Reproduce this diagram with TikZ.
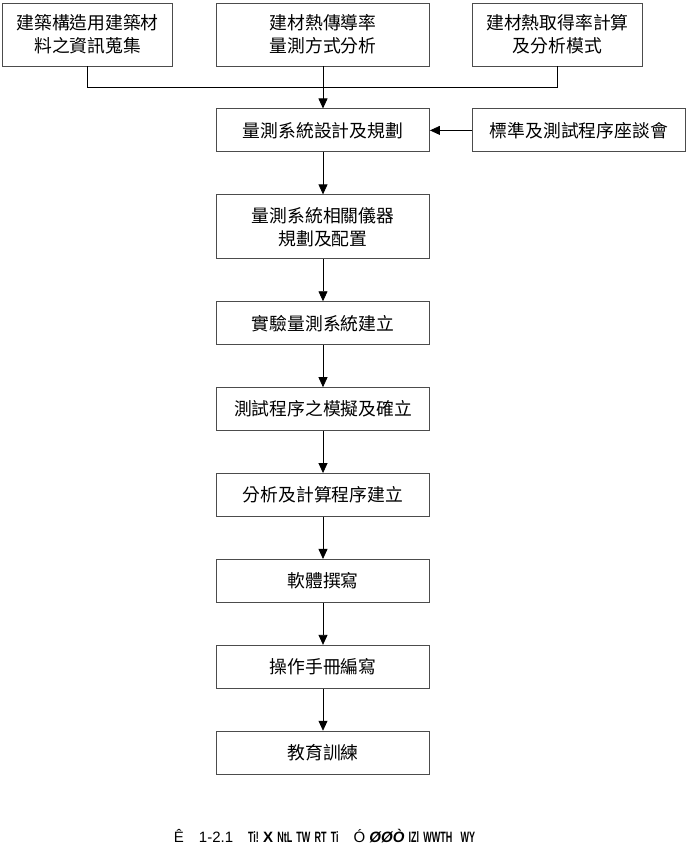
\documentclass[tikz,border=0pt]{standalone}
\usepackage{fontspec}
\usepackage{graphicx}
\setmainfont{Liberation Sans}
\newfontfamily\cjk{Noto Sans CJK TC}
\usetikzlibrary{arrows.meta,positioning,calc}

\newcommand{\squeeze}[1]{\scalebox{0.6}[1]{\bfseries #1}}

\begin{document}
\begin{tikzpicture}[
    x=1pt, y=1pt,
    node distance=42pt,
    box/.style={rectangle, draw=black!70, line width=0.9pt, fill=white, align=center,
                minimum width=213pt, minimum height=43pt, inner sep=0pt,
                font=\cjk\fontsize{17.8}{23}\selectfont},
    sbox/.style={box, minimum width=170pt, minimum height=63pt},
    tbox/.style={box, minimum height=64pt},
    flow/.style={-{Triangle[length=10pt,width=9pt]}, line width=0.8pt}
]
\useasboundingbox (0,0) rectangle (698,-844);
\node[box, minimum height=63pt] (mid) at (323,-34.5) {建材熱傳導率\\量測方式分析};
\node[sbox, left=43pt of mid] (lft) {建築構造用建築材\\料之資訊蒐集};
\node[sbox, right=of mid] (rgt) {建材熱取得率計算\\及分析模式};
\node[box, below=of mid] (s1) {量測系統設計及規劃};
\node[box, right=of s1] (meet) {標準及測試程序座談會};
\node[tbox, below=of s1] (s2) {量測系統相關儀器\\規劃及配置};
\node[box, below=of s2] (s3) {實驗量測系統建立};
\node[box, below=of s3] (s4) {測試程序之模擬及確立};
\node[box, below=of s4] (s5) {分析及計算程序建立};
\node[box, below=of s5] (s6) {軟體撰寫};
\node[box, below=of s6] (s7) {操作手冊編寫};
\node[box, below=of s7] (s8) {教育訓練};
\node[font=\fontsize{15}{15}\selectfont] (cap) at (324.5,-836)
    {Ê\quad 1-2.1\quad \squeeze{Ti!}\ \textbf{X}\ \squeeze{NtL}\ \squeeze{TW}\ \squeeze{RT}\ \squeeze{Ti}\quad Ó\ \textbf{\textit{ØØÒ}}\ \squeeze{IZl}\ \squeeze{WWTH}\ \ \squeeze{WY}};
\coordinate (join) at ($(mid.south)!.5!(s1.north)$);
\draw[line width=0.8pt] (lft.south) |- (join) -| (rgt.south);
\draw[flow] (mid)--(s1); \draw[flow] (meet)--(s1);
\draw[flow] (s1)--(s2); \draw[flow] (s2)--(s3); \draw[flow] (s3)--(s4);
\draw[flow] (s4)--(s5); \draw[flow] (s5)--(s6); \draw[flow] (s6)--(s7); \draw[flow] (s7)--(s8);
\end{tikzpicture}
\end{document}
